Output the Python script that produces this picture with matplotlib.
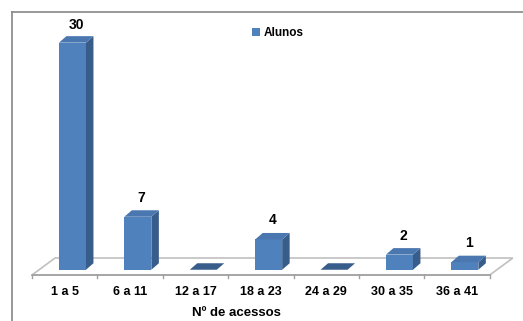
import matplotlib
matplotlib.use("Agg")
import matplotlib.pyplot as plt
from matplotlib.patches import Polygon
from matplotlib.lines import Line2D

categories = ["1 a 5", "6 a 11", "12 a 17", "18 a 23", "24 a 29", "30 a 35", "36 a 41"]
alunos = [30, 7, 0, 4, 0, 2, 1]
series_name = "Alunos"
x_title = "Nº de acessos"

W, H = 523, 321
fig = plt.figure(figsize=(W / 100, H / 100), dpi=100)
ax = fig.add_axes([0, 0, 1, 1])
ax.set_axis_off()

# pixel mapping of the floor front edge
px_x0, px_cat = 32, 65.4      # left end of floor, px per category
px_y0, px_unit = 275, 7.57    # floor front y (from top), px per unit
ax.set_xlim(-px_x0 / px_cat, (W - px_x0) / px_cat)
ax.set_ylim(-(H - px_y0) / px_unit, px_y0 / px_unit)

n = len(categories)
floor_dx, floor_dy = 23 / px_cat, 17 / px_unit
bar_w = 27 / px_cat
bar_dx, bar_dy = 7.5 / px_cat, 6.5 / px_unit
off_x = floor_dx / 2 - bar_dx / 2
off_y = floor_dy / 2 - bar_dy / 2
label_max = (px_y0 - 38) / px_unit   # labels do not go above the plot area

front_c = "#4F81BD"
side_c = "#385D8A"
top_c = "#4A77B0"
font = ["Liberation Sans", "DejaVu Sans"]

# floor
ax.add_patch(Polygon([(0, 0), (n, 0), (n + floor_dx, floor_dy), (floor_dx, floor_dy)],
                     closed=True, facecolor="white", edgecolor="#C0C0C0", lw=1.2, zorder=1))
ax.plot([0, n], [0, 0], color="#A0A0A0", lw=1.2, zorder=1.5)
for i in range(n + 1):
    ax.plot([i, i], [0, -0.45], color="#A0A0A0", lw=1, zorder=1.5)

for i, v in enumerate(alunos):
    x0 = i + 0.5 - bar_w / 2 + off_x
    x1 = x0 + bar_w
    y0 = off_y
    yt = y0 + v
    if v > 0:
        ax.bar(x0, v, width=bar_w, bottom=y0, align="edge", color=front_c, lw=0, zorder=3)
        ax.add_patch(Polygon([(x1, y0), (x1 + bar_dx, y0 + bar_dy), (x1 + bar_dx, yt + bar_dy), (x1, yt)],
                             closed=True, facecolor=side_c, lw=0, zorder=3))
        ax.add_patch(Polygon([(x0, yt), (x1, yt), (x1 + bar_dx, yt + bar_dy), (x0 + bar_dx, yt + bar_dy)],
                             closed=True, facecolor=top_c, lw=0, zorder=3))
        ax.annotate(str(v), (x0 + bar_w / 2 + bar_dx / 2, min(yt + bar_dy, label_max)), xytext=(0, 4),
                    textcoords="offset points", ha="center", va="bottom",
                    fontsize=10, fontweight="bold", family=font)
    else:
        ax.add_patch(Polygon([(x0, yt), (x1, yt), (x1 + bar_dx, yt + bar_dy), (x0 + bar_dx, yt + bar_dy)],
                             closed=True, facecolor=side_c, lw=0, zorder=3))
    ax.annotate(categories[i], (i + 0.5, 0), xytext=(0, -12.5), textcoords="offset points",
                ha="center", va="center", fontsize=9, fontweight="bold", family=font)

ax.annotate(x_title, (3.13, 0), xytext=(0, -27.5), textcoords="offset points",
            ha="center", va="center", fontsize=9.5, fontweight="bold", family=font)

# legend
ax.bar([0], [0], color=front_c, label=series_name)
leg = ax.legend(loc="center", bbox_to_anchor=(277.5 / W, 1 - 33 / H), frameon=False,
                handlelength=0.75, handleheight=0.75, handletextpad=0.25,
                prop={"family": font, "weight": "bold", "size": 8.5})

# chart frame (cropped on the right and bottom)
fig.add_artist(Line2D([12 / W, 12 / W], [0, 1 - 12 / H], color="#868686", lw=1.2))
fig.add_artist(Line2D([12 / W, 1], [1 - 12 / H, 1 - 12 / H], color="#868686", lw=1.2))

fig.savefig("out.png", dpi=100)
